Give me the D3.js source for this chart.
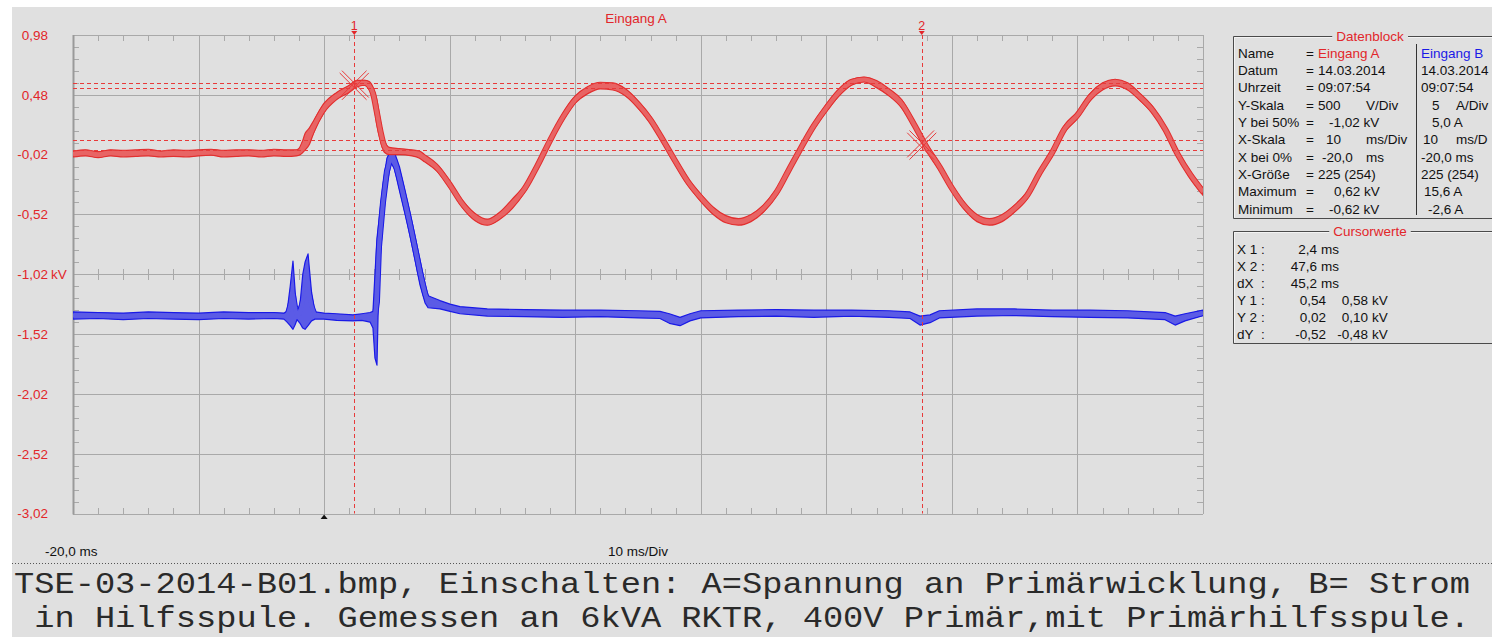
<!DOCTYPE html>
<html>
<head>
<meta charset="utf-8">
<script src="https://cdn.jsdelivr.net/npm/d3@7"></script>
<style>
html, body { margin: 0; padding: 0; background: #fff; }
svg { display: block; }
text { font-family: "Liberation Sans", Arial, sans-serif; }
.pre { white-space: pre; }
</style>
</head>
<body>
<svg id="scope" width="1492" height="637"></svg>
<script>
// ---- values ----
const timeRange = [-20, 70];                 // ms, 10 ms/Div
const yTicksA = [0.98, 0.48, -0.02, -0.52, -1.02, -1.52, -2.02, -2.52, -3.02]; // kV
const bCenter = 5, bPerDiv = 5;              // channel B: A at 50 %, A/Div

// channel A (voltage, kV): envelope min / max per time point
const redTime = [-20,-19,-18,-17,-16,-15,-14,-13,-12,-11,-10,-9,-8,-7,-6,-5,-4,-3,-2.2,-1.9,-1.5,-1.2,-0.8,0,1,2,2.6,3.2,3.6,3.9,4.2,4.5,4.8,5.2,6,7,7.6,
  8,9,10,11,12,13,14,15,16,17,18,19,20,21,22,23,24,25,26,27,28,29,30,31,32,33,34,35,36,37,38,39,40,
  41,42,43,44,45,46,47,48,49,50,51,52,53,54,55,56,57,58,59,60,61,62,63,64,65,66,67,68,69,70];
const redMin = [-0.04,-0.03,-0.045,-0.03,-0.04,-0.035,-0.03,-0.04,-0.035,-0.04,-0.03,-0.025,-0.04,-0.035,-0.03,-0.04,-0.03,-0.035,-0.03,-0.02,0.02,0.06,0.17,0.33,0.44,0.50,0.545,0.56,0.52,0.44,0.23,0.09,0.0,-0.02,-0.02,-0.03,-0.05,
  -0.08,-0.16,-0.30,-0.46,-0.57,-0.61,-0.56,-0.47,-0.33,-0.14,0.07,0.26,0.41,0.49,0.53,0.52,0.47,0.37,0.24,0.07,-0.11,-0.28,-0.41,-0.52,-0.59,-0.61,-0.58,-0.50,-0.37,-0.18,0.01,0.19,0.34,
  0.47,0.56,0.59,0.54,0.47,0.37,0.20,0.01,-0.15,-0.33,-0.48,-0.58,-0.61,-0.58,-0.50,-0.39,-0.20,-0.03,0.17,0.28,0.43,0.52,0.555,0.52,0.43,0.32,0.16,-0.05,-0.22,-0.36];
const redMax = [0.01,0.02,0.005,0.02,0.015,0.02,0.025,0.01,0.02,0.015,0.02,0.025,0.015,0.02,0.02,0.015,0.025,0.02,0.02,0.04,0.16,0.20,0.27,0.41,0.50,0.56,0.60,0.60,0.59,0.54,0.44,0.25,0.10,0.04,0.03,0.02,0.01,
  -0.02,-0.10,-0.24,-0.40,-0.51,-0.56,-0.50,-0.39,-0.27,-0.08,0.13,0.32,0.47,0.55,0.585,0.58,0.53,0.43,0.30,0.13,-0.05,-0.22,-0.35,-0.46,-0.53,-0.555,-0.52,-0.44,-0.31,-0.12,0.07,0.25,0.40,
  0.53,0.61,0.625,0.60,0.53,0.44,0.26,0.07,-0.09,-0.27,-0.42,-0.52,-0.555,-0.52,-0.44,-0.33,-0.14,0.03,0.23,0.34,0.49,0.58,0.61,0.58,0.49,0.38,0.22,0.01,-0.16,-0.30];

// channel B (current, A): envelope min / max per time point
const blueTime = [-20,-18,-16,-14,-12,-10,-8,-6,-4,-3.2,-2.95,-2.7,-2.48,-2.3,-2.16,-1.92,-1.7,-1.52,-1.28,-1.0,-0.73,0,1,2.3,3.0,3.66,3.89,4.05,4.21,4.37,4.69,5.0,5.33,5.6,6.0,6.45,6.84,7.24,7.64,8.04,8.28,
  9.23,10.03,10.82,13,16,19,22,25,26.75,27.5,28.35,29.14,30,33,36,39,42,45,46.67,47.46,48.26,49,52,55,58,61,64,66.98,67.78,68.57,70];
const blueMin = [1.25,1.30,1.20,1.30,1.25,1.20,1.30,1.25,1.30,1.25,1.0,0.7,0.4,0.8,1.2,0.9,0.5,0.4,0.7,1.1,1.25,1.25,1.15,1.1,1.15,1.0,0.5,-2.0,-2.6,5.0,9.5,12.5,14.3,13.8,12.0,10.0,8.2,6.2,4.1,2.6,2.2,
  2.1,1.9,1.7,1.5,1.45,1.4,1.45,1.35,1.3,0.9,0.7,1.1,1.35,1.45,1.5,1.4,1.5,1.4,1.3,0.75,0.95,1.35,1.5,1.55,1.45,1.4,1.35,1.2,0.75,1.1,1.55];
const blueMax = [1.85,1.80,1.75,1.85,1.80,1.75,1.85,1.80,1.80,1.75,1.9,4.0,6.1,3.5,1.9,2.5,5.0,6.0,6.7,3.5,1.85,1.75,1.7,1.6,1.7,1.8,1.9,5.0,8.0,9.5,12.5,14.7,15.4,15.2,14.0,12.0,10.2,8.2,6.2,4.2,3.2,
  2.8,2.5,2.3,2.1,2.05,2.0,2.0,1.95,1.9,1.7,1.4,1.7,1.95,2.0,2.05,2.0,2.0,1.95,1.85,1.5,1.6,1.95,2.1,2.1,2.0,2.0,1.95,1.8,1.5,1.7,2.0];

// cursors
const cursorX = [2.4, 47.6];          // ms
const cursorY1 = [0.54, 0.58];        // kV
const cursorY2 = [0.02, 0.10];        // kV

// Datenblock (column B is cut at the window edge in the screenshot)
const dbLabels = ["Name", "Datum", "Uhrzeit", "Y-Skala", "Y bei 50%", "X-Skala", "X bei 0%", "X-Größe", "Maximum", "Minimum"];
const dbA = [["Eingang A"], ["14.03.2014"], ["09:07:54"], ["500", "V/Div"], ["-1,02 kV"], ["10", "ms/Div"], ["-20,0", "ms"], ["225 (254)"], ["0,62 kV"], ["-0,62 kV"]];
const dbB = [["Eingang B"], ["14.03.2014"], ["09:07:54"], ["5", "A/Div"], ["5,0 A"], ["10", "ms/D"], ["-20,0 ms"], ["225 (254)"], ["15,6 A"], ["-2,6 A"]];

const captionLines = [
  "TSE-03-2014-B01.bmp, Einschalten: A=Spannung an Primärwicklung, B= Strom",
  " in Hilfsspule. Gemessen an 6kVA RKTR, 400V Primär,mit Primärhilfsspule."
];

// ---- layout ----
const RED = "#e2262a", BLUE = "#1a1ae6", BG = "#e0e0e0", GRID = "#a9a9a9";
const plot = { left: 73, right: 1203, top: 35, bottom: 513.5 };

const de = d3.formatLocale({ decimal: ",", thousands: ".", grouping: [3], currency: ["", " €"], minus: "-" });
const f2 = de.format(".2f"), f1 = de.format(".1f");

const svg = d3.select("#scope");
svg.append("rect").attr("x", 12).attr("y", 7).attr("width", 1480).attr("height", 630).attr("fill", BG);

const x = d3.scaleLinear().domain(timeRange).range([plot.left, plot.right]);
const yA = d3.scaleLinear().domain([-3.02, 0.98]).range([plot.bottom, plot.top]);
const yB = d3.scaleLinear().domain([bCenter - 4 * bPerDiv, bCenter + 4 * bPerDiv]).range([plot.bottom, plot.top]);

const majorX = d3.range(timeRange[0], timeRange[1] + 0.01, 10);
const minorX = d3.range(timeRange[0], timeRange[1] + 0.01, 2);
const minorY = d3.range(-3.02, 0.99, 0.1);
const midY = -1.02;

// grid
const grid = svg.append("g").attr("stroke", GRID).attr("shape-rendering", "crispEdges");
grid.selectAll(".gx").data(majorX).join("line")
  .attr("x1", d => Math.round(x(d)) + 0.5).attr("x2", d => Math.round(x(d)) + 0.5)
  .attr("y1", plot.top).attr("y2", plot.bottom);
grid.selectAll(".gy").data(yTicksA).join("line").attr("class", "gy")
  .attr("x1", plot.left).attr("x2", plot.right)
  .attr("y1", d => Math.round(yA(d)) + 0.5).attr("y2", d => Math.round(yA(d)) + 0.5);

// minor ticks on the frame and the middle line
const tk = 6;
grid.selectAll(".tt").data(minorX).join("line").attr("class", "tt")
  .attr("x1", d => Math.round(x(d)) + 0.5).attr("x2", d => Math.round(x(d)) + 0.5)
  .attr("y1", plot.top).attr("y2", plot.top + tk);
grid.selectAll(".tb").data(minorX).join("line").attr("class", "tb")
  .attr("x1", d => Math.round(x(d)) + 0.5).attr("x2", d => Math.round(x(d)) + 0.5)
  .attr("y1", plot.bottom - tk).attr("y2", plot.bottom);
grid.selectAll(".tm").data(minorX).join("line").attr("class", "tm")
  .attr("x1", d => Math.round(x(d)) + 0.5).attr("x2", d => Math.round(x(d)) + 0.5)
  .attr("y1", yA(midY) - 5).attr("y2", yA(midY) + 6);
grid.selectAll(".tl").data(minorY).join("line").attr("class", "tl")
  .attr("x1", plot.left).attr("x2", plot.left + tk)
  .attr("y1", d => Math.round(yA(d)) + 0.5).attr("y2", d => Math.round(yA(d)) + 0.5);
grid.selectAll(".tr").data(minorY).join("line").attr("class", "tr")
  .attr("x1", plot.right - tk).attr("x2", plot.right)
  .attr("y1", d => Math.round(yA(d)) + 0.5).attr("y2", d => Math.round(yA(d)) + 0.5);
svg.append("line").attr("x1", plot.left + 0.5).attr("x2", plot.left + 0.5)
  .attr("y1", plot.top).attr("y2", plot.bottom + 1).attr("stroke", "#9a9a9a").attr("stroke-width", 2);

// y labels
const yl = svg.append("g").attr("fill", RED).attr("font-size", 13.5);
yl.selectAll("text").data(yTicksA).join("text")
  .attr("x", 48).attr("y", d => yA(d)).attr("dy", "0.36em").attr("text-anchor", "end")
  .text(d => f2(d));
yl.append("text").attr("x", 51).attr("y", yA(midY)).attr("dy", "0.36em").text("kV");

// traces
svg.append("clipPath").attr("id", "clip").append("rect")
  .attr("x", plot.left).attr("y", plot.top).attr("width", plot.right - plot.left).attr("height", plot.bottom - plot.top);
const traces = svg.append("g").attr("clip-path", "url(#clip)");

function drawTrace(time, lo, hi, y, dark, light, curve, lw) {
  const pts = time.map((t, i) => ({ t, lo: lo[i], hi: hi[i], mid: (lo[i] + hi[i]) / 2 }));
  const line = d3.line().x(d => x(d.t)).y(d => y(d.mid)).curve(curve);
  const area = d3.area().x(d => x(d.t)).y0(d => y(d.lo)).y1(d => y(d.hi)).curve(curve);
  traces.append("path").datum(pts).attr("d", line).attr("fill", "none")
    .attr("stroke", dark).attr("stroke-width", lw + 2).attr("stroke-linejoin", "round");
  traces.append("path").datum(pts).attr("d", area).attr("fill", light)
    .attr("stroke", dark).attr("stroke-width", 1.2).attr("stroke-linejoin", "round");
  traces.append("path").datum(pts).attr("d", line).attr("fill", "none")
    .attr("stroke", light).attr("stroke-width", lw).attr("stroke-linejoin", "round");
}
drawTrace(blueTime, blueMin, blueMax, yB, BLUE, "#5b5be6", d3.curveLinear, 4);
drawTrace(redTime, redMin, redMax, yA, "#e23030", "#e86464", d3.curveMonotoneX, 4);

// cursors
const cur = svg.append("g").attr("stroke", "#e83a3a").attr("stroke-width", 1).attr("stroke-dasharray", "4,3");
cur.selectAll(".cv").data(cursorX).join("line")
  .attr("x1", d => Math.round(x(d)) + 0.5).attr("x2", d => Math.round(x(d)) + 0.5)
  .attr("y1", plot.top).attr("y2", plot.bottom);
cur.selectAll(".ch").data(cursorY1.concat(cursorY2)).join("line").attr("class", "ch")
  .attr("x1", plot.left).attr("x2", plot.right)
  .attr("y1", d => Math.round(yA(d)) + 0.5).attr("y2", d => Math.round(yA(d)) + 0.5);

cursorX.forEach((cx, i) => {
  const px = x(cx);
  svg.append("text").attr("x", px).attr("y", 30).attr("text-anchor", "middle")
    .attr("fill", RED).attr("font-size", 12.5).text(i + 1);
  svg.append("path").attr("d", `M${px - 3},31 L${px + 3},31 L${px},35 Z`).attr("fill", RED);
  const yy = i === 0 ? d3.mean(cursorY1) : d3.mean(cursorY2);
  const cy = yA(yy);
  const L = 19;
  [Math.PI / 4, 3 * Math.PI / 4].forEach(a => {
    const ux = Math.cos(a), uy = Math.sin(a), nx = -uy, ny = ux;
    [-1.6, 1.6].forEach(o => {
      svg.append("line")
        .attr("x1", px - L * ux + o * nx).attr("y1", cy - L * uy + o * ny)
        .attr("x2", px + L * ux + o * nx).attr("y2", cy + L * uy + o * ny)
        .attr("stroke", "#e83a3a").attr("stroke-width", 1);
    });
  });
});

// trigger marker
svg.append("path").attr("d", `M${x(0) - 3.5},519 L${x(0) + 3.5},519 L${x(0)},514.5 Z`).attr("fill", "#111");

// header / footer labels
svg.append("text").attr("x", 636).attr("y", 23).attr("text-anchor", "middle")
  .attr("fill", RED).attr("font-size", 13.5).text("Eingang A");
svg.append("text").attr("x", 45).attr("y", 556).attr("font-size", 13.5).attr("fill", "#111")
  .text(f1(timeRange[0]) + " ms");
svg.append("text").attr("x", 638).attr("y", 556).attr("text-anchor", "middle").attr("font-size", 13.5).attr("fill", "#111")
  .text("10 ms/Div");

// group boxes
function groupBox(y0, y1, title) {
  const g = svg.append("g");
  g.append("path").attr("d", `M1492,${y0 + 0.5} L1233.5,${y0 + 0.5} L1233.5,${y1 + 0.5} L1492,${y1 + 0.5}`)
    .attr("fill", "none").attr("stroke", "#4a4a4a").attr("stroke-width", 1);
  g.append("path").attr("d", `M1492,${y0 + 1.5} L1234.5,${y0 + 1.5} L1234.5,${y1 - 0.5}`)
    .attr("fill", "none").attr("stroke", "#ffffff").attr("stroke-width", 1).attr("opacity", 0.6);
  const t = g.append("text").attr("x", 1370).attr("y", y0 + 5).attr("text-anchor", "middle")
    .attr("fill", RED).attr("font-size", 13.5).text(title);
  const bb = t.node().getBBox();
  g.insert("rect", "text").attr("x", bb.x - 4).attr("y", y0 - 2).attr("width", bb.width + 8).attr("height", 5).attr("fill", BG);
  return g;
}
groupBox(36, 218, "Datenblock");
groupBox(231, 343, "Cursorwerte");

const db = svg.append("g").attr("font-size", 13.5).attr("fill", "#111");
const rowY = i => 57.5 + i * 17.35;
const aX = [1318, 1318, 1318, 1318, 1329, 1326, 1322, 1318, 1334, 1329];
const bX = [1421, 1421, 1421, 1432, 1432, 1423, 1421, 1421, 1424, 1428];
dbLabels.forEach((lab, i) => {
  db.append("text").attr("x", 1238).attr("y", rowY(i)).text(lab);
  db.append("text").attr("x", 1306).attr("y", rowY(i)).text("=");
  const a = dbA[i], b = dbB[i];
  db.append("text").attr("x", aX[i]).attr("y", rowY(i)).attr("fill", i === 0 ? RED : null).text(a[0]);
  if (a[1]) db.append("text").attr("x", 1366).attr("y", rowY(i)).text(a[1]);
  db.append("text").attr("x", bX[i]).attr("y", rowY(i)).attr("fill", i === 0 ? BLUE : null).text(b[0]);
  if (b[1]) db.append("text").attr("x", 1456).attr("y", rowY(i)).text(b[1]);
});
svg.append("line").attr("x1", 1416.5).attr("x2", 1416.5).attr("y1", 44).attr("y2", 215)
  .attr("stroke", "#333").attr("stroke-width", 1);

// Cursorwerte
const cw = svg.append("g").attr("font-size", 13.5).attr("fill", "#111");
const cRowY = i => 254 + i * 16.9;
const dX = cursorX[1] - cursorX[0];
const dY = [cursorY2[0] - cursorY1[0], cursorY2[1] - cursorY1[1]];
const xRows = [["X 1", cursorX[0]], ["X 2", cursorX[1]], ["dX", dX]];
const yRows = [["Y 1", cursorY1], ["Y 2", cursorY2], ["dY", dY]];
xRows.forEach(([lab, v], i) => {
  cw.append("text").attr("x", 1237).attr("y", cRowY(i)).text(lab);
  cw.append("text").attr("x", 1261).attr("y", cRowY(i)).text(":");
  cw.append("text").attr("x", 1317).attr("y", cRowY(i)).attr("text-anchor", "end").text(f1(v));
  cw.append("text").attr("x", 1321).attr("y", cRowY(i)).text("ms");
});
yRows.forEach(([lab, v], j) => {
  const i = j + 3;
  cw.append("text").attr("x", 1237).attr("y", cRowY(i)).text(lab);
  cw.append("text").attr("x", 1261).attr("y", cRowY(i)).text(":");
  cw.append("text").attr("x", 1326).attr("y", cRowY(i)).attr("text-anchor", "end").text(f2(v[0]));
  cw.append("text").attr("x", 1368).attr("y", cRowY(i)).attr("text-anchor", "end").text(f2(v[1]));
  cw.append("text").attr("x", 1372).attr("y", cRowY(i)).text("kV");
});

// caption
svg.append("line").attr("x1", 12).attr("x2", 1492).attr("y1", 563.5).attr("y2", 563.5)
  .attr("stroke", "#555").attr("stroke-dasharray", "1,2");
captionLines.forEach((s, i) => {
  svg.append("text").attr("class", "pre").attr("x", 14).attr("y", 593 + i * 34)
    .style("font-family", "'Courier New', 'Liberation Mono', monospace")
    .attr("font-size", 30).attr("fill", "#2a2a2a")
    .attr("textLength", 1456).attr("lengthAdjust", "spacingAndGlyphs")
    .text(s);
});
</script>
</body>
</html>
